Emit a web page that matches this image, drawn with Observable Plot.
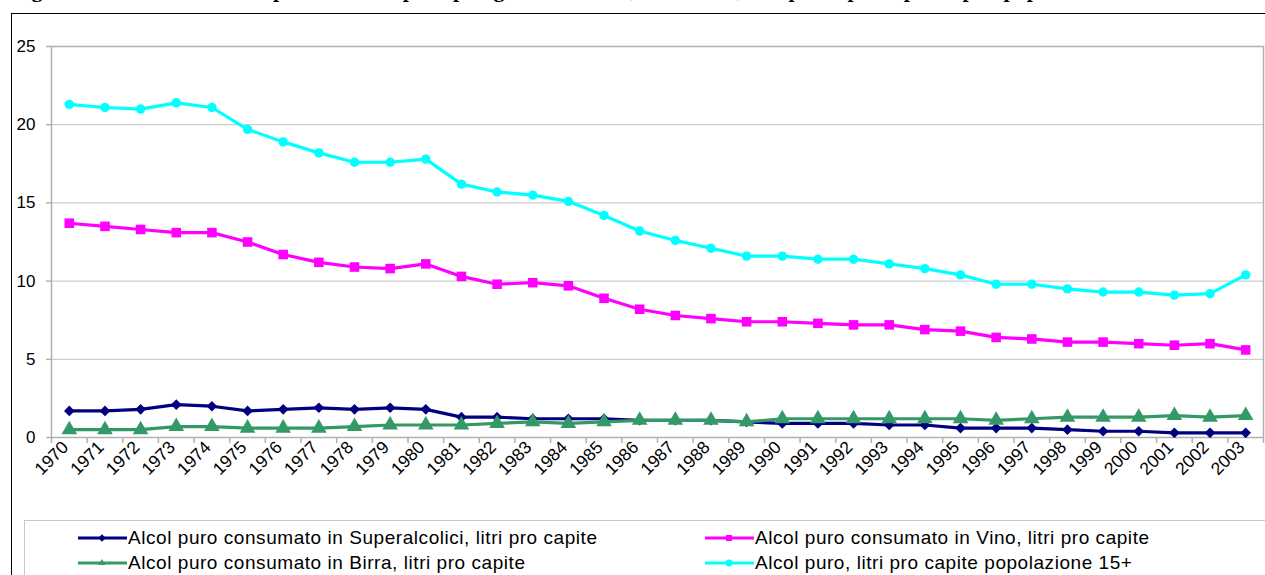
<!DOCTYPE html>
<html>
<head>
<meta charset="utf-8">
<script src="https://cdn.jsdelivr.net/npm/d3@7"></script>
<script src="https://cdn.jsdelivr.net/npm/@observablehq/plot@0.6"></script>
<style>
  html, body { margin: 0; padding: 0; background: #fff; }
  body { width: 1265px; height: 575px; position: relative; overflow: hidden; font-family: "Liberation Sans", Arial, sans-serif; }
  #title { position: absolute; left: 12px; top: -21px; white-space: nowrap; font-family: "Liberation Serif", "Times New Roman", serif; font-weight: bold; font-size: 22px; line-height: 22px; color: #000; }
  #frame { position: absolute; left: 11px; top: 13px; width: 1400px; height: 700px; border: 1.5px solid #000; box-sizing: border-box; }
  #chart { position: absolute; left: 0; top: 0; }
  #legend { position: absolute; left: 24px; top: 520px; width: 1400px; height: 100px; border: 1.5px solid #c8c8c8; box-sizing: border-box; }
  .item { position: absolute; display: flex; align-items: center; height: 22px; font-size: 19px; letter-spacing: 0.55px; color: #000; white-space: nowrap; }
  .item svg { margin-right: 0px; }
</style>
</head>
<body>
<div id="title">Figura 1: Consumo di alcol puro in Italia per tipologia di bevanda, 1970-2003, litri pro capite e pro capite popolazione 15+</div>
<div id="frame"></div>
<div id="chart"></div>
<div id="legend"></div>
<script>
const years = [1970, 1971, 1972, 1973, 1974, 1975, 1976, 1977, 1978, 1979, 1980, 1981, 1982, 1983, 1984, 1985, 1986,
  1987, 1988, 1989, 1990, 1991, 1992, 1993, 1994, 1995, 1996, 1997, 1998, 1999, 2000, 2001, 2002, 2003];
const superalcolici = [1.7, 1.7, 1.8, 2.1, 2.0, 1.7, 1.8, 1.9, 1.8, 1.9, 1.8, 1.3, 1.3, 1.2, 1.2, 1.2, 1.1,
  1.1, 1.1, 1.0, 0.9, 0.9, 0.9, 0.8, 0.8, 0.6, 0.6, 0.6, 0.5, 0.4, 0.4, 0.3, 0.3, 0.3];
const vino = [13.7, 13.5, 13.3, 13.1, 13.1, 12.5, 11.7, 11.2, 10.9, 10.8, 11.1, 10.3, 9.8, 9.9, 9.7, 8.9, 8.2,
  7.8, 7.6, 7.4, 7.4, 7.3, 7.2, 7.2, 6.9, 6.8, 6.4, 6.3, 6.1, 6.1, 6.0, 5.9, 6.0, 5.6];
const birra = [0.5, 0.5, 0.5, 0.7, 0.7, 0.6, 0.6, 0.6, 0.7, 0.8, 0.8, 0.8, 0.9, 1.0, 0.9, 1.0, 1.1,
  1.1, 1.1, 1.0, 1.2, 1.2, 1.2, 1.2, 1.2, 1.2, 1.1, 1.2, 1.3, 1.3, 1.3, 1.4, 1.3, 1.4];
const totale15 = [21.3, 21.1, 21.0, 21.4, 21.1, 19.7, 18.9, 18.2, 17.6, 17.6, 17.8, 16.2, 15.7, 15.5, 15.1, 14.2, 13.2,
  12.6, 12.1, 11.6, 11.6, 11.4, 11.4, 11.1, 10.8, 10.4, 9.8, 9.8, 9.5, 9.3, 9.3, 9.1, 9.2, 10.4];
const yTicks = [0, 5, 10, 15, 20, 25];

const seriesNames = [
  "Alcol puro consumato in Superalcolici, litri pro capite",
  "Alcol puro consumato in Vino, litri pro capite",
  "Alcol puro consumato in Birra, litri pro capite",
  "Alcol puro, litri pro capite popolazione 15+"
];
const seriesValues = [superalcolici, vino, birra, totale15];
const seriesColors = ["#000080", "#ff00ff", "#339966", "#00ffff"];
const seriesSymbols = ["diamond2", "square", "triangle", "circle"];
const seriesR = [4.8, 5.4, 5.8, 4.7];

const boundaries = years.map(y => y - 0.5).concat([years[years.length - 1] + 0.5]);

const drawOrder = [3, 1, 0, 2];
const marks = [
  Plot.gridY(yTicks, {stroke: "#c0c0c0", strokeOpacity: 1, strokeWidth: 1}),
  Plot.frame({stroke: "#b0b0b0", strokeWidth: 1.5}),
  Plot.axisY(yTicks, {tickSize: 5, tickPadding: 11, fontSize: 17, stroke: "#b0b0b0", strokeWidth: 1.5, label: null}),
  Plot.axisX({ticks: boundaries, tickSize: 6, tickFormat: () => "", stroke: "#b0b0b0", strokeWidth: 1.5, label: null}),
  Plot.axisX({ticks: years, tickSize: 0, tickPadding: 7, tickFormat: d => String(d), tickRotate: -45, fontSize: 17.5, dx: -4, label: null})
];
for (const i of drawOrder) {
  const data = years.map((yr, k) => ({year: yr, value: seriesValues[i][k]}));
  marks.push(Plot.line(data, {x: "year", y: "value", stroke: seriesColors[i], strokeWidth: 3.2}));
  marks.push(Plot.dot(data, {x: "year", y: "value", fill: seriesColors[i], stroke: "none", symbol: seriesSymbols[i], r: seriesR[i]}));
}

const chart = Plot.plot({
  width: 1265,
  height: 510,
  marginLeft: 51,
  marginRight: 2,
  marginTop: 46,
  marginBottom: 73,
  style: {fontFamily: "'Liberation Sans', Arial, sans-serif", background: "transparent", overflow: "visible"},
  x: {type: "linear", domain: [boundaries[0], boundaries[boundaries.length - 1]]},
  y: {domain: [0, 25]},
  marks
});
document.getElementById("chart").appendChild(chart);

// Legend
const legend = document.getElementById("legend");
const legendPos = [
  {left: 53, top: 6},
  {left: 680, top: 6},
  {left: 53, top: 31},
  {left: 680, top: 31}
];
const legendOrder = [0, 1, 2, 3];
legendOrder.forEach((i, idx) => {
  const div = document.createElement("div");
  div.className = "item";
  div.style.left = legendPos[idx].left + "px";
  div.style.top = legendPos[idx].top + "px";
  const ns = "http://www.w3.org/2000/svg";
  const svg = document.createElementNS(ns, "svg");
  svg.setAttribute("width", 50);
  svg.setAttribute("height", 14);
  const line = document.createElementNS(ns, "line");
  line.setAttribute("x1", 0); line.setAttribute("x2", 49);
  line.setAttribute("y1", 7); line.setAttribute("y2", 7);
  line.setAttribute("stroke", seriesColors[i]); line.setAttribute("stroke-width", 3);
  svg.appendChild(line);
  const symMap = {diamond2: d3.symbolDiamond2, square: d3.symbolSquare, triangle: d3.symbolTriangle2, circle: d3.symbolCircle};
  const path = document.createElementNS(ns, "path");
  path.setAttribute("d", d3.symbol(symMap[seriesSymbols[i]], Math.PI * 3.4 * 3.4)());
  path.setAttribute("transform", "translate(24,7)");
  path.setAttribute("fill", seriesColors[i]);
  svg.appendChild(path);
  div.appendChild(svg);
  const span = document.createElement("span");
  span.textContent = seriesNames[i];
  div.appendChild(span);
  legend.appendChild(div);
});
</script>
</body>
</html>
